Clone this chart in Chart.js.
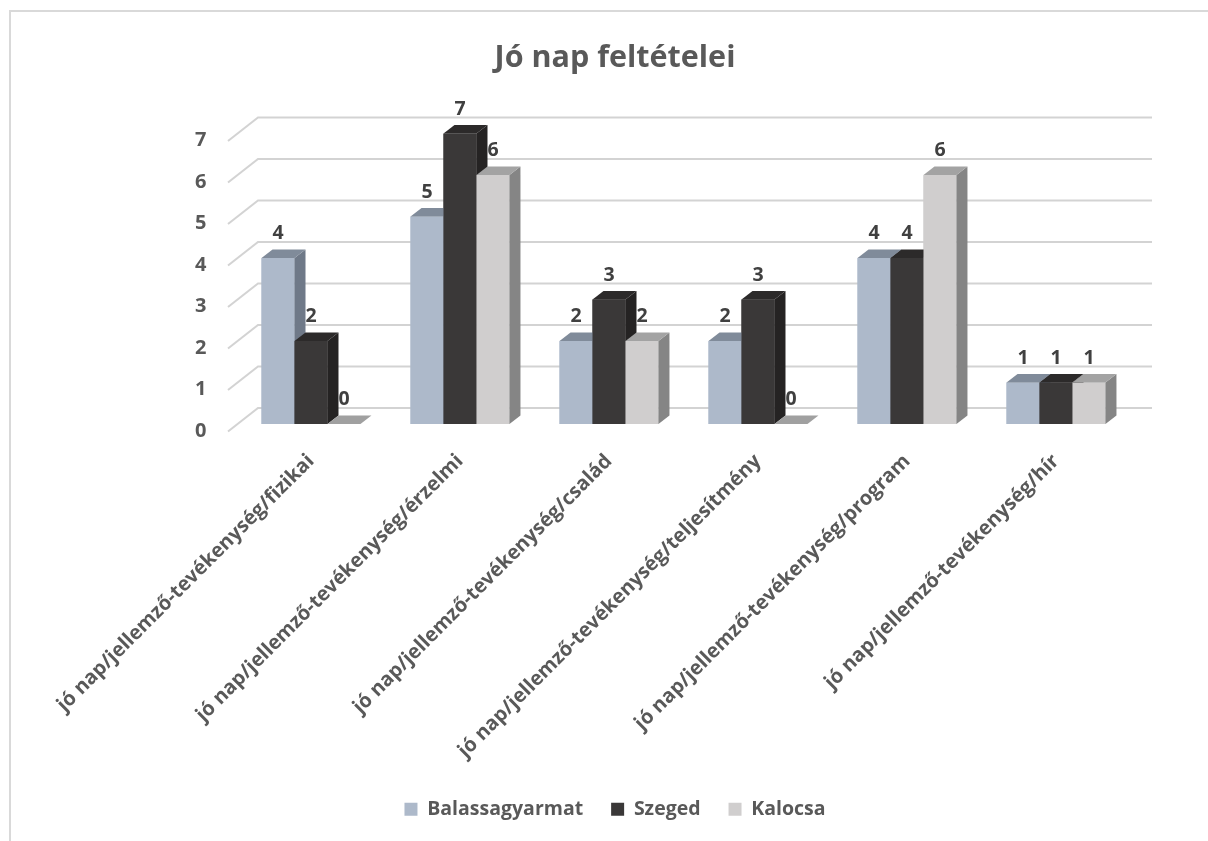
<!DOCTYPE html>
<html>
<head>
<meta charset="utf-8">
<script src="https://cdn.jsdelivr.net/npm/chart.js@4.4.1/dist/chart.umd.min.js"></script>
<style>
  html, body { margin: 0; padding: 0; background: #ffffff; overflow: hidden; }
  #wrap { position: absolute; left: 0; top: 0; width: 1208px; height: 841px; }
</style>
</head>
<body>
<div id="wrap"><canvas id="c" width="1208" height="841"></canvas></div>
<script>
const titleText = "Jó nap feltételei";
const categories = [
  "jó nap/jellemző-tevékenység/fizikai",
  "jó nap/jellemző-tevékenység/érzelmi",
  "jó nap/jellemző-tevékenység/család",
  "jó nap/jellemző-tevékenység/teljesítmény",
  "jó nap/jellemző-tevékenység/program",
  "jó nap/jellemző-tevékenység/hír"
];
const seriesNames = ["Balassagyarmat", "Szeged", "Kalocsa"];
const balassagyarmat = [4, 5, 2, 2, 4, 1];
const szeged = [2, 7, 3, 3, 4, 1];
const kalocsa = [0, 6, 2, 0, 6, 1];
const yTicks = [0, 1, 2, 3, 4, 5, 6, 7];

const frontColors = ["#ADB9CA", "#3A3838", "#D0CECE"];
const topColors = ["#808B9A", "#2C2A2A", "#A3A3A3"];
const sideColors = ["#6F7988", "#252323", "#858585"];

const FONT = "'Open Sans', 'DejaVu Sans', sans-serif";
const DEPTH_X = 11, DEPTH_Y = -8.4;      // bar depth
const BACK_X = 21.5, BACK_Y = -16;       // back wall offset from bar plane
const FRONT_X = -8.5, FRONT_Y = 7.5;     // front edge of side wall

const frame = {
  id: 'frame',
  beforeDraw(chart) {
    const ctx = chart.ctx;
    ctx.save();
    ctx.fillStyle = '#ffffff';
    ctx.fillRect(0, 0, chart.width, chart.height);
    ctx.strokeStyle = '#D9D9D9';
    ctx.lineWidth = 2;
    ctx.beginPath();
    ctx.moveTo(10, 841);
    ctx.lineTo(10, 11);
    ctx.lineTo(1208, 11);
    ctx.stroke();
    ctx.restore();
  }
};

const walls = {
  id: 'walls',
  beforeDatasetsDraw(chart) {
    const ctx = chart.ctx;
    const y = chart.scales.y;
    const area = chart.chartArea;
    ctx.save();
    ctx.strokeStyle = '#D3D3D3';
    ctx.lineWidth = 2;
    yTicks.forEach(v => {
      const py = y.getPixelForValue(v);
      ctx.beginPath();
      ctx.moveTo(area.left + FRONT_X, py + FRONT_Y);
      ctx.lineTo(area.left + BACK_X, py + BACK_Y);
      ctx.lineTo(area.right + BACK_X, py + BACK_Y);
      ctx.stroke();
    });
    ctx.restore();
  }
};

function poly(ctx, pts, color) {
  ctx.fillStyle = color;
  ctx.beginPath();
  ctx.moveTo(pts[0][0], pts[0][1]);
  for (let i = 1; i < pts.length; i++) ctx.lineTo(pts[i][0], pts[i][1]);
  ctx.closePath();
  ctx.fill();
}

const bars3d = {
  id: 'bars3d',
  afterDatasetsDraw(chart) {
    const ctx = chart.ctx;
    ctx.save();
    const n = chart.data.labels.length;
    for (let i = 0; i < n; i++) {
      chart.data.datasets.forEach((ds, d) => {
        const el = chart.getDatasetMeta(d).data[i];
        const x0 = el.x - el.width / 2, x1 = el.x + el.width / 2;
        const yt = el.y, yb = el.base;
        const v = ds.data[i];
        if (v > 0) {
          poly(ctx, [[x0, yt], [x1, yt], [x1, yb], [x0, yb]], frontColors[d]);
          poly(ctx, [[x1, yt], [x1 + DEPTH_X, yt + DEPTH_Y], [x1 + DEPTH_X, yb + DEPTH_Y], [x1, yb]], sideColors[d]);
        }
        poly(ctx, [[x0, yt], [x0 + DEPTH_X, yt + DEPTH_Y], [x1 + DEPTH_X, yt + DEPTH_Y], [x1, yt]], v > 0 ? topColors[d] : '#A0A0A0');
      });
    }
    // value labels
    ctx.fillStyle = '#404040';
    ctx.font = "bold 19.5px " + FONT;
    ctx.textAlign = 'center';
    ctx.textBaseline = 'middle';
    chart.data.datasets.forEach((ds, d) => {
      chart.getDatasetMeta(d).data.forEach((el, i) => {
        ctx.fillText(String(ds.data[i]), el.x, el.y - 24.5);
      });
    });
    ctx.restore();
  }
};

const seriesData = [balassagyarmat, szeged, kalocsa];

new Chart(document.getElementById('c'), {
  type: 'bar',
  data: {
    labels: categories,
    datasets: seriesNames.map((name, k) => ({
      label: name,
      data: seriesData[k],
      backgroundColor: frontColors[k],
      borderWidth: 0,
      barPercentage: 1.0,
      categoryPercentage: 0.664
    }))
  },
  options: {
    responsive: false,
    animation: false,
    devicePixelRatio: 1,
    layout: { padding: { left: 22, right: 0, top: 0, bottom: 12 } },
    plugins: {
      title: {
        display: true,
        text: titleText,
        color: '#595959',
        font: { family: FONT, size: 30.5, weight: 'bold' },
        padding: { top: 39.7, bottom: 57.2 }
      },
      legend: {
        display: true,
        position: 'bottom',
        labels: {
          color: '#595959',
          font: { family: FONT, size: 19.5, weight: 'bold' },
          boxWidth: 13,
          boxHeight: 13,
          padding: 28
        }
      },
      tooltip: { enabled: false }
    },
    scales: {
      x: {
        grid: { display: false },
        border: { display: false },
        ticks: {
          color: '#595959',
          font: { family: FONT, size: 20, weight: 'bold' },
          autoSkip: false,
          minRotation: 45,
          maxRotation: 45,
          labelOffset: 0,
          padding: 17.5
        },
        afterFit(scale) { scale.height = 349 - 1.5; }
      },
      y: {
        min: 0,
        max: 7,
        grid: { display: false },
        border: { display: false },
        ticks: {
          stepSize: 1,
          color: '#595959',
          font: { family: FONT, size: 20, weight: 'bold' },
          padding: 22,
          labelOffset: 7
        },
        afterFit(scale) { scale.width = 214.5; }
      },
      yRight: {
        position: 'right',
        display: true,
        grid: { display: false },
        border: { display: false },
        ticks: { display: false },
        afterFit(scale) { scale.width = 77.5; }
      }
    }
  },
  plugins: [frame, walls, bars3d]
});
</script>
</body>
</html>
